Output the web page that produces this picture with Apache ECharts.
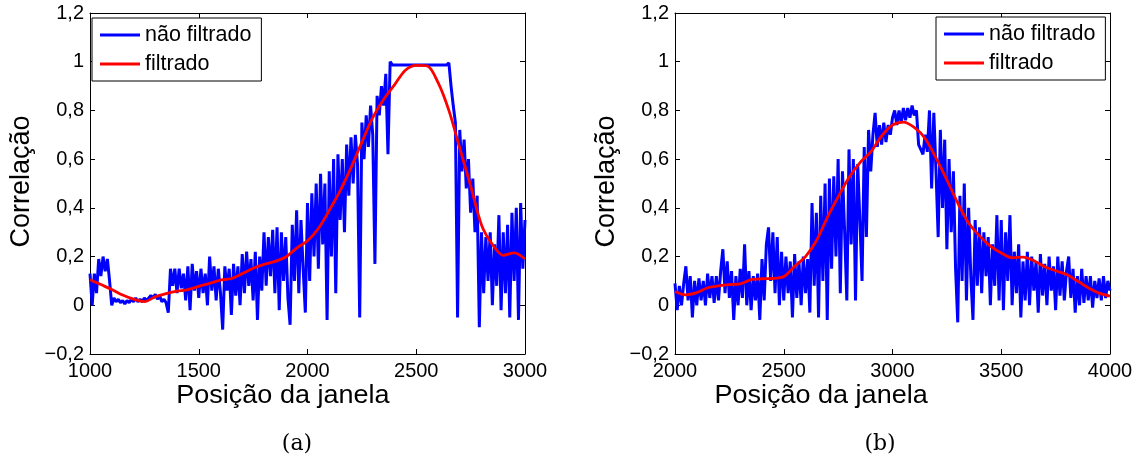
<!DOCTYPE html>
<html><head><meta charset="utf-8">
<script src="https://cdn.jsdelivr.net/npm/echarts@6/dist/echarts.min.js"></script>
<style>html,body{margin:0;padding:0;background:#fff;}#c{width:1142px;height:463px;}</style>
</head><body><div id="c"></div>
<script>
const seriesNames = ['não filtrado', 'filtrado'];
const xTitle = 'Posição da janela';
const yTitle = 'Correlação';
const captions = ['(a)', '(b)'];
const xRangeA = [1000, 3000];
const xRangeB = [2000, 4000];
const xTickStep = 500;
const yRange = [-0.2, 1.2];
const yTickStep = 0.2;
const rawStep = 10;
const filtStep = 50;

// (a) unfiltered, x = 1000..3000 step 10
const rawA = [
 0.13, 0.0, 0.13, 0.05, 0.19, 0.12, 0.2, 0.14, 0.19, 0.1,
 0.0, 0.03, 0.015, 0.025, 0.01, 0.02, 0.005, 0.02, 0.01, 0.025,
 0.015, 0.03, 0.015, 0.025, 0.015, 0.03, 0.02, 0.03, 0.04, 0.03,
 0.045, 0.025, 0.04, 0.015, 0.025, 0.01, -0.03, 0.15, 0.08, 0.15,
 0.05, 0.15, 0.07, 0.13, 0.02, 0.16, -0.02, 0.17, 0.06, 0.14,
 0.03, 0.15, 0.05, 0.13, 0.0, 0.2, 0.06, 0.16, 0.02, 0.15,
 0.05, -0.1, 0.16, 0.06, 0.15, -0.04, 0.17, 0.04, 0.16, 0.0,
 0.21, 0.05, 0.22, 0.08, 0.19, 0.02, 0.22, -0.06, 0.2, 0.06,
 0.3, 0.08, 0.28, 0.12, 0.31, 0.05, 0.32, -0.02, 0.3, 0.1,
 0.28, 0.03, -0.08, 0.33, 0.1, 0.39, 0.05, 0.35, 0.15, -0.03,
 0.42, 0.1, 0.46, 0.2, 0.5, 0.15, 0.54, 0.25, 0.5, -0.06,
 0.55, 0.2, 0.6, 0.05, 0.62, 0.35, 0.6, 0.3, 0.66, 0.45,
 0.69, 0.5, 0.7, 0.58, -0.05, 0.75, 0.6, 0.78, 0.65, 0.82,
 0.7, 0.17, 0.86, 0.78, 0.9, 0.82, 0.95, 0.62, 1.0, 0.987,
 0.987, 0.987, 0.987, 0.987, 0.987, 0.987, 0.987, 0.987, 0.987, 0.987,
 0.987, 0.987, 0.987, 0.987, 0.987, 0.987, 0.987, 0.987, 0.987, 0.987,
 0.987, 0.987, 0.987, 0.987, 0.987, 0.995, 0.9, 0.82, 0.75, -0.05,
 0.72, 0.55, 0.68, 0.48, 0.6, 0.38, 0.52, 0.3, 0.45, -0.09,
 0.3, 0.05, 0.28, 0.1, 0.3, 0.0, 0.25, 0.08, 0.37, -0.02,
 0.3, 0.05, 0.33, -0.05, 0.38, 0.1, 0.4, -0.06, 0.42, 0.15,
 0.35
];
// (a) filtered, x = 1000..3000 step 50
const filtA = [
 0.105, 0.085, 0.065, 0.042, 0.025, 0.015, 0.035, 0.048, 0.058, 0.064,
 0.078, 0.09, 0.103, 0.11, 0.13, 0.152, 0.168, 0.18, 0.198, 0.235,
 0.265, 0.315, 0.39, 0.47, 0.565, 0.67, 0.77, 0.845, 0.905, 0.965,
 0.985, 0.983, 0.915, 0.8, 0.645, 0.49, 0.33, 0.25, 0.205, 0.215,
 0.19
];
// (b) unfiltered, x = 2000..4000 step 10
const rawB = [
 0.09, -0.02, 0.08, 0.0, 0.09, 0.16, 0.02, 0.12, -0.05, 0.1,
 0.0, 0.11, 0.02, 0.1, 0.0, 0.13, 0.03, 0.12, 0.01, 0.12,
 0.02, 0.14, 0.23, 0.05, 0.18, 0.03, 0.14, -0.06, 0.12, 0.0,
 0.15, 0.03, 0.25, 0.0, 0.14, -0.02, 0.12, 0.02, 0.13, -0.06,
 0.19, 0.02, 0.25, 0.32, 0.1, 0.3, 0.05, 0.28, 0.0, 0.22,
 0.02, 0.2, 0.05, 0.18, -0.05, 0.21, 0.03, 0.18, 0.0, 0.2,
 0.05, 0.19, -0.03, 0.42, 0.08, 0.38, -0.05, 0.45, 0.1, 0.5,
 -0.06, 0.52, 0.15, 0.53, 0.2, 0.6, 0.05, 0.55, 0.3, 0.02,
 0.64, 0.25, 0.6, 0.02, 0.58, 0.35, 0.1, 0.65, 0.28, 0.72,
 0.55, 0.7, 0.79, 0.65, 0.74, 0.66, 0.75, 0.67, 0.74, 0.7,
 0.77, 0.8, 0.74, 0.8, 0.75, 0.81, 0.76, 0.81, 0.77, 0.82,
 0.78, 0.8, 0.66, 0.64, 0.62, 0.7, 0.63, 0.8, 0.48, 0.79,
 0.55, 0.28, 0.72, 0.4, 0.68, 0.23, 0.6, 0.3, 0.55, 0.15,
 -0.07, 0.45, 0.1, 0.5, 0.02, 0.4, 0.12, -0.06, 0.35, 0.08,
 0.32, 0.05, 0.3, 0.12, 0.28, 0.0, 0.25, 0.08, 0.37, 0.02,
 0.35, -0.02, 0.3, 0.1, 0.37, 0.0, 0.22, 0.05, 0.25, -0.05,
 0.18, 0.02, 0.22, 0.0, 0.2, 0.06, 0.18, -0.03, 0.21, 0.04,
 0.17, 0.0, 0.2, 0.06, 0.16, -0.02, 0.2, 0.04, 0.18, 0.02,
 0.14, 0.2, 0.03, 0.15, -0.03, 0.12, 0.0, 0.15, 0.01, 0.12,
 0.02, 0.12, -0.01, 0.1, 0.03, 0.11, 0.02, 0.12, 0.03, 0.1,
 0.06
];
// (b) filtered, x = 2000..4000 step 50
const filtB = [
 0.057, 0.043, 0.052, 0.072, 0.08, 0.085, 0.088, 0.105, 0.109, 0.11,
 0.118, 0.16, 0.2, 0.265, 0.36, 0.445, 0.525, 0.585, 0.63, 0.695,
 0.74, 0.752, 0.73, 0.685, 0.605, 0.515, 0.42, 0.338, 0.285, 0.243,
 0.215, 0.195, 0.198, 0.183, 0.158, 0.142, 0.126, 0.1, 0.072, 0.05,
 0.038
];

const BLUE = '#0000ff', RED = '#ff0000', INK = '#000';
const SANS = 'Liberation Sans, Arial, Helvetica, sans-serif';
const plots = [
  { left: 90, xr: xRangeA, raw: rawA, filt: filtA, legLeft: 92, legTop: 18 },
  { left: 675, xr: xRangeB, raw: rawB, filt: filtB, legLeft: 936, legTop: 17 }
];
const gridTop = 13, gridW = 435, gridH = 341;

function pairs(arr, x0, step) { return arr.map((v, i) => [x0 + i * step, v]); }
function yFmt(v) {
  const r = Math.round(v * 10) / 10;
  const s = String(Math.abs(r)).replace('.', ',');
  return r < 0 ? '\u2212' + s : s;
}
function xFmt(v) { return String(Math.round(v)); }
function axisCommon(showLabel) {
  return {
    axisLine: { show: true, onZero: false, lineStyle: { color: INK, width: 1 } },
    axisTick: { show: true, inside: true, length: 5, lineStyle: { color: INK, width: 1 } },
    splitLine: { show: false },
    axisLabel: { show: showLabel, color: INK, fontFamily: SANS, fontSize: 20, showMinLabel: true, showMaxLabel: true }
  };
}

const grid = [], xAxis = [], yAxis = [], series = [], legend = [], graphic = [];
plots.forEach((p, gi) => {
  grid.push({ left: p.left, top: gridTop, width: gridW, height: gridH, containLabel: false });
  ['bottom', 'top'].forEach((pos, k) => {
    const c = axisCommon(k === 0);
    c.axisLabel.margin = 7;
    c.axisLabel.formatter = xFmt;
    xAxis.push(Object.assign({ type: 'value', gridIndex: gi, position: pos, min: p.xr[0], max: p.xr[1], interval: xTickStep }, c));
  });
  ['left', 'right'].forEach((pos, k) => {
    const c = axisCommon(k === 0);
    c.axisLabel.margin = 6;
    c.axisLabel.formatter = yFmt;
    yAxis.push(Object.assign({ type: 'value', gridIndex: gi, position: pos, min: yRange[0], max: yRange[1], interval: yTickStep }, c));
  });
  series.push({
    name: seriesNames[0], type: 'line', xAxisIndex: gi * 2, yAxisIndex: gi * 2,
    data: pairs(p.raw, p.xr[0], rawStep), showSymbol: false, symbol: 'none',
    lineStyle: { color: BLUE, width: 3 }, itemStyle: { color: BLUE }, z: 2
  });
  series.push({
    name: seriesNames[1], type: 'line', xAxisIndex: gi * 2, yAxisIndex: gi * 2,
    data: pairs(p.filt, p.xr[0], filtStep), showSymbol: false, symbol: 'none', smooth: 0.3,
    lineStyle: { color: RED, width: 2.8 }, itemStyle: { color: RED }, z: 3
  });
  legend.push({
    orient: 'vertical', left: p.legLeft, top: p.legTop,
    data: seriesNames.map(n => ({ name: n, icon: 'rect' })),
    itemWidth: 40, itemHeight: 3, itemGap: 7,
    padding: [6, 10, 6, 8],
    backgroundColor: '#fff', borderColor: INK, borderWidth: 1, borderRadius: 0,
    textStyle: { color: INK, fontFamily: SANS, fontSize: 21.5, padding: [0, 0, 0, 0] },
    selectedMode: false, z: 10
  });
  const cx = p.left + gridW / 2;
  graphic.push({ type: 'text', x: cx, y: 396, style: { text: xTitle, fill: INK, font: '25px ' + SANS, align: 'center', verticalAlign: 'middle' }, scaleX: 1.08, originX: cx, originY: 396 });
  graphic.push({ type: 'text', x: p.left - 68, y: gridTop + gridH / 2 - 2, rotation: Math.PI / 2, style: { text: yTitle, fill: INK, font: '27px ' + SANS, align: 'center', verticalAlign: 'middle' } });
  graphic.push({ type: 'text', x: gi === 0 ? 297 : 880, y: 444, style: { text: captions[gi], fill: INK, font: '22px DejaVu Serif, serif', align: 'center', verticalAlign: 'middle' } });
});

const chart = echarts.init(document.getElementById('c'), null, { renderer: 'canvas' });
chart.setOption({ animation: false, backgroundColor: '#fff', grid, xAxis, yAxis, series, legend, graphic });
</script></body></html>
